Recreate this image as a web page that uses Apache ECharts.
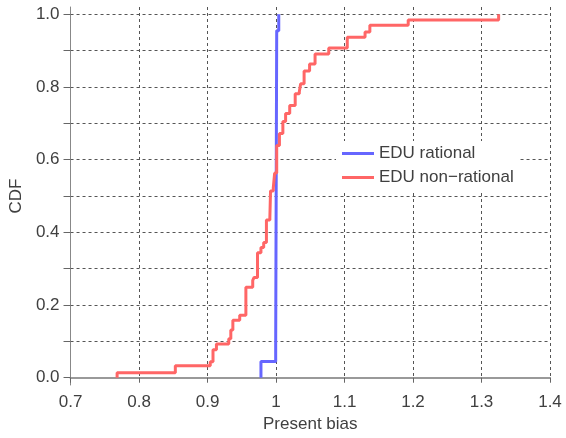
<!DOCTYPE html>
<html>
<head>
<meta charset="utf-8">
<script src="https://cdn.jsdelivr.net/npm/echarts@6/dist/echarts.min.js"></script>
<style>html,body{margin:0;padding:0;background:#fff}#c{width:566px;height:438px}</style>
</head>
<body>
<div id="c"></div>
<script>
// EDU rational: [present bias, CDF]
const rationalX = [0.978, 0.978, 0.9995, 1.001, 1.004];
const rationalY = [0.0, 0.045, 0.09, 0.955, 1.0];
// EDU non-rational
const nonRationalX = [0.768, 0.768, 0.853, 0.904, 0.908, 0.913, 0.931, 0.934, 0.937, 0.947, 0.956, 0.966, 0.968, 0.973, 0.978, 0.982, 0.986, 0.991, 0.992, 0.996, 0.998, 1.001, 1.005, 1.010, 1.014, 1.020, 1.028, 1.034, 1.036, 1.041, 1.049, 1.057, 1.077, 1.104, 1.130, 1.137, 1.193, 1.325];
const nonRationalY = [0.0, 0.014, 0.033, 0.044, 0.077, 0.093, 0.107, 0.131, 0.158, 0.172, 0.249, 0.268, 0.276, 0.344, 0.358, 0.372, 0.434, 0.440, 0.514, 0.522, 0.563, 0.639, 0.672, 0.705, 0.727, 0.749, 0.781, 0.787, 0.809, 0.844, 0.863, 0.891, 0.907, 0.937, 0.951, 0.970, 0.984, 1.0];
const seriesNames = ['EDU rational', 'EDU non\u2212rational'];
const yTicks = [0, 0.1, 0.2, 0.3, 0.4, 0.5, 0.6, 0.7, 0.8, 0.9, 1.0];
const yLabels = [0, 0.2, 0.4, 0.6, 0.8, 1.0];

const zip = (xs, ys) => xs.map((x, i) => [x, ys[i]]);
const txt = '#404040';
const font = 'Liberation Sans, Arial, sans-serif';
const chart = echarts.init(document.getElementById('c'), null, {renderer: 'canvas'});
chart.setOption({
  animation: false,
  backgroundColor: '#fff',
  grid: {left: 66, right: 16, top: 7, bottom: 50, containLabel: false},
  legend: {
    orient: 'vertical', left: 336, top: 141, padding: [4, 6],
    backgroundColor: '#fff', itemGap: 7, itemWidth: 32, itemHeight: 3, icon: 'rect',
    textStyle: {color: txt, fontSize: 17, fontFamily: font, lineHeight: 17},
    data: seriesNames
  },
  xAxis: {
    type: 'value', min: 0.7, max: 1.4, interval: 0.1,
    name: 'Present bias', nameLocation: 'middle', nameGap: 31,
    nameTextStyle: {color: txt, fontSize: 17, fontFamily: font},
    axisLine: {show: true, lineStyle: {color: '#999', width: 2}},
    axisTick: {show: true, length: 5, lineStyle: {color: '#666'}},
    axisLabel: {color: txt, fontSize: 17, fontFamily: font, margin: 9,
      formatter: v => String(+v.toFixed(1))},
    splitLine: {show: true, lineStyle: {color: '#555', type: [3, 3], width: 1}}
  },
  yAxis: {
    type: 'value', min: -0.02, max: 1.02,
    name: 'CDF', nameLocation: 'middle', nameGap: 37,
    nameTextStyle: {color: txt, fontSize: 17, fontFamily: font},
    axisLine: {show: true, lineStyle: {color: '#888', width: 1}},
    axisTick: {show: true, length: 7, customValues: yTicks, lineStyle: {color: '#666'}},
    axisLabel: {color: txt, fontSize: 17, fontFamily: font, margin: 11,
      customValues: yLabels, formatter: v => v.toFixed(1)},
    splitLine: {show: true, lineStyle: {color: '#555', type: [3, 3], width: 1}}
  },
  series: [
    {name: seriesNames[0], type: 'line', step: 'end', showSymbol: false,
      color: '#6666ff', lineStyle: {width: 3, color: '#6666ff'},
      data: zip(rationalX, rationalY)},
    {name: seriesNames[1], type: 'line', step: 'end', showSymbol: false,
      color: '#ff6666', lineStyle: {width: 3, color: '#ff6666'},
      data: zip(nonRationalX, nonRationalY)}
  ]
});
</script>
</body>
</html>
